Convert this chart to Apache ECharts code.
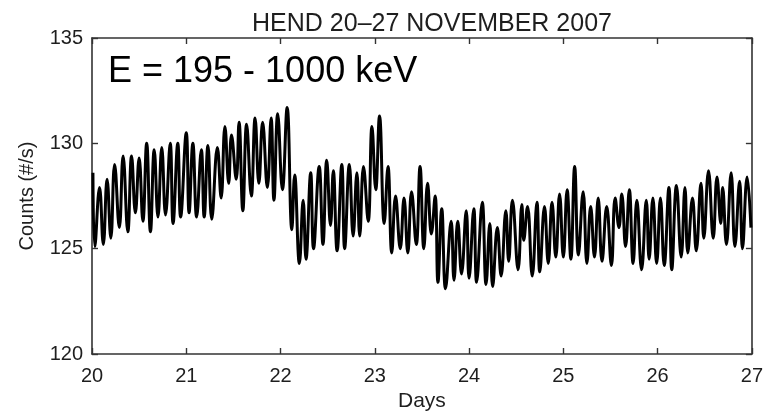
<!DOCTYPE html>
<html>
<head>
<meta charset="utf-8">
<title>HEND 20–27 November 2007</title>
<script src="https://cdn.jsdelivr.net/npm/echarts@6/dist/echarts.min.js"></script>
<style>
  html, body { margin: 0; padding: 0; background: #fff; }
  #chart { width: 766px; height: 417px; }
</style>
</head>
<body>
<div id="chart"></div>
<script>
// Turning points of the HEND count rate (E = 195–1000 keV), 20–27 Nov 2007
const days = [
  20.01, 20.03, 20.08, 20.12, 20.16, 20.20, 20.24, 20.29, 20.33, 20.38,
  20.42, 20.46, 20.50, 20.54, 20.58, 20.62, 20.66, 20.70, 20.74, 20.78,
  20.83, 20.86, 20.91, 20.94, 21.00, 21.03, 21.07, 21.11, 21.16, 21.19,
  21.23, 21.27, 21.33, 21.37, 21.41, 21.45, 21.48, 21.53, 21.56, 21.60,
  21.64, 21.69, 21.73, 21.77, 21.81, 21.86, 21.90, 21.93, 21.97, 22.02,
  22.07, 22.12, 22.15, 22.20, 22.24, 22.27, 22.32, 22.35, 22.41, 22.45,
  22.49, 22.53, 22.56, 22.60, 22.65, 22.68, 22.73, 22.77, 22.81, 22.84,
  22.88, 22.93, 22.97, 23.01, 23.05, 23.10, 23.14, 23.18, 23.22, 23.27,
  23.31, 23.35, 23.39, 23.44, 23.48, 23.52, 23.56, 23.60, 23.64, 23.67,
  23.71, 23.75, 23.81, 23.84, 23.88, 23.92, 23.97, 24.00, 24.05, 24.08,
  24.14, 24.18, 24.22, 24.25, 24.30, 24.34, 24.39, 24.42, 24.46, 24.52,
  24.56, 24.58, 24.62, 24.67, 24.72, 24.75, 24.80, 24.84, 24.88, 24.92,
  24.96, 25.00, 25.04, 25.08, 25.12, 25.16, 25.21, 25.25, 25.29, 25.33,
  25.37, 25.41, 25.46, 25.51, 25.55, 25.59, 25.62, 25.66, 25.70, 25.74,
  25.78, 25.83, 25.88, 25.91, 25.95, 25.99, 26.03, 26.07, 26.12, 26.15,
  26.20, 26.25, 26.29, 26.32, 26.37, 26.41, 26.46, 26.49, 26.54, 26.59,
  26.63, 26.67, 26.69, 26.73, 26.78, 26.82, 26.87, 26.90, 26.95, 26.99
];
const counts = [
  128.6, 125.1, 127.9, 125.2, 128.3, 125.5, 129.0, 126.0, 129.4, 125.8,
  129.4, 126.7, 129.3, 126.3, 130.0, 125.8, 129.7, 126.5, 129.8, 126.6,
  130.0, 126.2, 130.0, 126.5, 130.5, 126.7, 130.0, 126.5, 129.7, 126.5,
  129.9, 126.4, 129.8, 127.4, 130.8, 128.1, 130.4, 128.3, 131.0, 126.8,
  130.9, 127.5, 131.2, 128.1, 131.0, 127.9, 131.2, 127.3, 131.4, 127.8,
  131.7, 125.9, 128.5, 124.3, 127.3, 124.5, 128.6, 125.0, 128.9, 125.2,
  129.2, 126.1, 128.7, 124.9, 129.0, 125.0, 129.0, 125.6, 128.6, 125.6,
  128.9, 126.3, 130.8, 127.8, 131.3, 126.2, 128.9, 124.8, 127.5, 125.0,
  127.4, 124.8, 127.7, 125.2, 128.9, 125.0, 128.1, 125.7, 127.5, 123.4,
  126.9, 123.1, 126.3, 123.5, 126.3, 123.8, 126.8, 123.6, 126.9, 123.4,
  127.2, 123.3, 126.2, 123.2, 126.0, 123.7, 126.8, 124.4, 127.3, 124.0,
  127.1, 125.4, 127.0, 123.7, 127.2, 123.9, 127.0, 124.3, 127.2, 124.6,
  127.6, 124.6, 127.8, 124.5, 128.9, 124.7, 127.7, 124.3, 127.0, 124.6,
  127.4, 124.4, 127.0, 124.2, 127.4, 126.0, 127.6, 125.1, 127.8, 124.3,
  127.3, 124.0, 127.3, 124.5, 127.4, 124.3, 127.4, 124.2, 127.9, 124.0,
  128.0, 124.6, 127.9, 124.8, 127.4, 124.9, 128.1, 125.5, 128.7, 125.5,
  128.4, 126.2, 127.9, 125.2, 128.6, 125.1, 128.2, 125.0, 128.4, 126.0
];
const xTicks = [20, 21, 22, 23, 24, 25, 26, 27];
const yTicks = [120, 125, 130, 135];

const series = days.map((d, i) => [d, counts[i]]);

const chart = echarts.init(document.getElementById('chart'), null, { renderer: 'canvas' });

const FONT = '"Liberation Sans", Arial, Helvetica, sans-serif';
const TEXT = '#1e1e1e';
const axisLine = { show: true, lineStyle: { color: '#333', width: 1.6 } };
const tickIn = { show: true, inside: true, length: 6, lineStyle: { color: '#333', width: 1.4 } };

chart.setOption({
  animation: false,
  backgroundColor: '#fff',
  title: [
    {
      text: 'HEND 20–27 NOVEMBER 2007',
      left: 427, top: 7, textAlign: 'center',
      textStyle: { fontFamily: FONT, fontSize: 25, fontWeight: 'normal', color: TEXT }
    },
    {
      text: 'E = 195 - 1000 keV',
      left: 103, top: 49,
      textStyle: { fontFamily: FONT, fontSize: 36, fontWeight: 'normal', color: '#000' }
    }
  ],
  grid: { left: 92, right: 14, top: 38, bottom: 63, containLabel: false },
  xAxis: [
    {
      type: 'value', min: xTicks[0], max: xTicks[xTicks.length - 1], interval: 1,
      position: 'bottom',
      name: 'Days', nameLocation: 'middle', nameGap: 36,
      nameTextStyle: { fontFamily: FONT, fontSize: 21, color: TEXT },
      axisLine: axisLine, axisTick: tickIn,
      axisLabel: { fontFamily: FONT, fontSize: 20, color: TEXT, margin: 12 },
      splitLine: { show: false }
    },
    {
      type: 'value', min: xTicks[0], max: xTicks[xTicks.length - 1], interval: 1,
      position: 'top',
      axisLine: axisLine, axisTick: tickIn, axisLabel: { show: false },
      splitLine: { show: false }
    }
  ],
  yAxis: [
    {
      type: 'value', min: yTicks[0], max: yTicks[yTicks.length - 1], interval: 5,
      position: 'left',
      name: 'Counts (#/s)', nameLocation: 'middle', nameGap: 55,
      nameTextStyle: { fontFamily: FONT, fontSize: 20, color: TEXT },
      axisLine: axisLine, axisTick: tickIn,
      axisLabel: { fontFamily: FONT, fontSize: 20, color: TEXT, margin: 9 },
      splitLine: { show: false }
    },
    {
      type: 'value', min: yTicks[0], max: yTicks[yTicks.length - 1], interval: 5,
      position: 'right',
      axisLine: axisLine, axisTick: tickIn, axisLabel: { show: false },
      splitLine: { show: false }
    }
  ],
  series: [
    {
      type: 'line',
      data: series,
      xAxisIndex: 0, yAxisIndex: 0,
      showSymbol: false,
      smooth: 0.45,
      lineStyle: { color: '#000', width: 3 },
      clip: true
    }
  ]
});
</script>
</body>
</html>
